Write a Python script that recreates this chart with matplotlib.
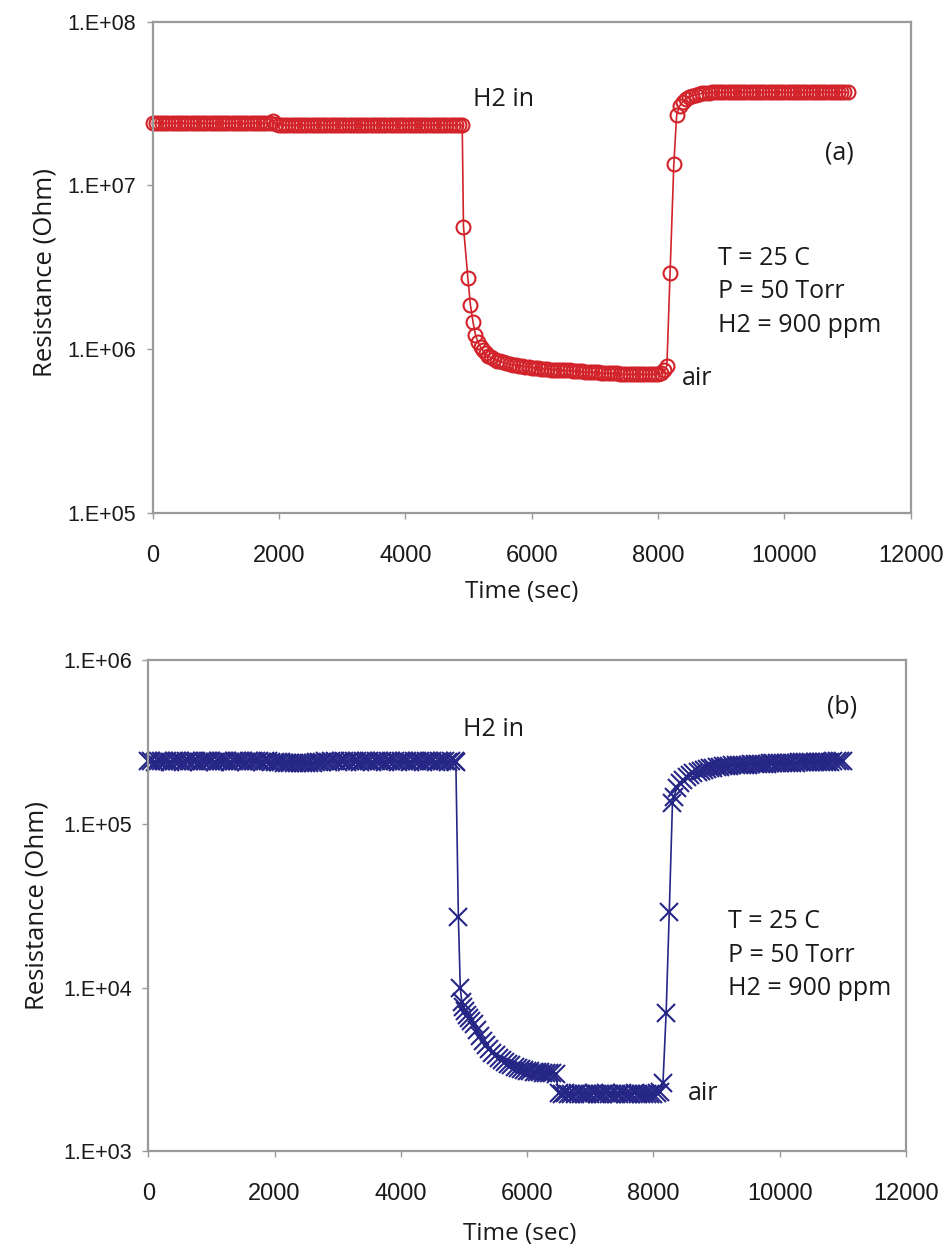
import matplotlib
matplotlib.use("Agg")
import matplotlib.pyplot as plt
from matplotlib.ticker import FixedLocator, NullLocator

# ---------------- data (a): circles, resistance in MOhm ----------------
time_a = [
    0, 50, 100, 150, 200, 250, 300, 350, 400, 450, 500, 550, 600, 650, 700, 750, 800, 850, 900, 950,
    1000, 1050, 1100, 1150, 1200, 1250, 1300, 1350, 1400, 1450, 1500, 1550, 1600, 1650, 1700, 1750,
    1800, 1850, 1900, 1950, 2000, 2050, 2100, 2150, 2200, 2250, 2300, 2350, 2400, 2450, 2500, 2550,
    2600, 2650, 2700, 2750, 2800, 2850, 2900, 2950, 3000, 3050, 3100, 3150, 3200, 3250, 3300, 3350,
    3400, 3450, 3500, 3550, 3600, 3650, 3700, 3750, 3800, 3850, 3900, 3950, 4000, 4050, 4100, 4150,
    4200, 4250, 4300, 4350, 4400, 4450, 4500, 4550, 4600, 4650, 4700, 4750, 4800, 4850, 4900,
    4920, 4990, 5030, 5070, 5110, 5150, 5190, 5230, 5270, 5310, 5350, 5400, 5450, 5500, 5550, 5600,
    5650, 5700, 5750, 5800, 5850, 5900, 5950, 6000, 6050, 6100, 6150, 6200, 6250, 6300, 6350, 6400,
    6450, 6500, 6550, 6600, 6650, 6700, 6750, 6800, 6850, 6900, 6950, 7000, 7050, 7100, 7150, 7200,
    7250, 7300, 7350, 7400, 7450, 7500, 7550, 7600, 7650, 7700, 7750, 7800, 7850, 7900, 7950, 8000,
    8050, 8100, 8140, 8190, 8250, 8295, 8340, 8390, 8440, 8490, 8540, 8600, 8650, 8700, 8750, 8800,
    8850, 8900, 8950, 9000, 9050, 9100, 9150, 9200, 9250, 9300, 9350, 9400, 9450, 9500, 9550, 9600,
    9650, 9700, 9750, 9800, 9850, 9900, 9950, 10000, 10050, 10100, 10150, 10200, 10250, 10300,
    10350, 10400, 10450, 10500, 10550, 10600, 10650, 10700, 10750, 10800, 10850, 10900, 10950, 11000,
]
res_a_MOhm = [
    24.0, 24.1, 24.0, 23.9, 24.0, 24.1, 24.0, 24.0, 23.9, 24.0, 24.1, 24.0, 24.0, 23.9, 24.0, 24.0,
    24.1, 24.0, 23.9, 24.0, 24.0, 24.1, 24.0, 24.0, 23.9, 24.0, 24.0, 24.1, 24.0, 23.9, 24.0, 24.0,
    24.1, 24.0, 24.0, 23.9, 24.0, 24.0, 24.8, 23.6, 23.4, 23.5, 23.4, 23.4, 23.3, 23.4, 23.5, 23.4,
    23.4, 23.3, 23.4, 23.4, 23.5, 23.4, 23.4, 23.3, 23.4, 23.4, 23.5, 23.4, 23.4, 23.3, 23.4, 23.4,
    23.5, 23.4, 23.4, 23.3, 23.4, 23.4, 23.5, 23.4, 23.4, 23.3, 23.4, 23.4, 23.5, 23.4, 23.4, 23.3,
    23.4, 23.4, 23.5, 23.4, 23.4, 23.3, 23.4, 23.4, 23.5, 23.4, 23.4, 23.3, 23.4, 23.4, 23.5, 23.4,
    23.4, 23.4, 23.3,
    5.6, 2.7, 1.86, 1.47, 1.22, 1.10, 1.03, 0.98, 0.94, 0.91, 0.89, 0.87, 0.85, 0.84, 0.83, 0.82,
    0.81, 0.80, 0.80, 0.79, 0.79, 0.78, 0.78, 0.77, 0.77, 0.77, 0.76, 0.76, 0.76, 0.75, 0.75, 0.75,
    0.74, 0.74, 0.74, 0.74, 0.73, 0.73, 0.73, 0.73, 0.72, 0.72, 0.72, 0.72, 0.72, 0.71, 0.71, 0.71,
    0.71, 0.71, 0.71, 0.70, 0.70, 0.70, 0.70, 0.70, 0.70, 0.70, 0.70, 0.70, 0.70, 0.70, 0.70, 0.70,
    0.71, 0.74, 0.79, 2.93, 13.5, 26.9, 30.5, 32.5, 33.8, 34.7, 35.3, 35.8, 36.2, 36.5, 36.7, 36.9,
    37.0, 37.0, 37.1, 37.0, 37.1, 37.2, 37.1, 37.0, 37.1, 37.2, 37.1, 37.1, 37.0, 37.1, 37.2, 37.1,
    37.0, 37.1, 37.2, 37.1, 37.1, 37.0, 37.1, 37.2, 37.1, 37.0, 37.1, 37.2, 37.1, 37.1, 37.0, 37.1,
    37.2, 37.1, 37.0, 37.1, 37.2, 37.1, 37.1, 37.0, 37.1, 37.2, 37.1, 37.0,
]

# ---------------- data (b): crosses, resistance in kOhm ----------------
time_b = [
    0, 50, 100, 150, 200, 250, 300, 350, 400, 450, 500, 550, 600, 650, 700, 750, 800, 850, 900, 950,
    1000, 1050, 1100, 1150, 1200, 1250, 1300, 1350, 1400, 1450, 1500, 1550, 1600, 1650, 1700, 1750,
    1800, 1850, 1900, 1950, 2000, 2050, 2100, 2150, 2200, 2250, 2300, 2350, 2400, 2450, 2500, 2550,
    2600, 2650, 2700, 2750, 2800, 2850, 2900, 2950, 3000, 3050, 3100, 3150, 3200, 3250, 3300, 3350,
    3400, 3450, 3500, 3550, 3600, 3650, 3700, 3750, 3800, 3850, 3900, 3950, 4000, 4050, 4100, 4150,
    4200, 4250, 4300, 4350, 4400, 4450, 4500, 4550, 4600, 4650, 4700, 4750, 4800, 4850, 4870,
    4910, 4940, 4965, 4990, 5020, 5050, 5080, 5110, 5150, 5200, 5250, 5300, 5350, 5400, 5450, 5500,
    5550, 5600, 5650, 5700, 5750, 5800, 5850, 5900, 5950, 6000, 6050, 6100, 6150, 6200, 6250, 6300,
    6350, 6400, 6450, 6500, 6550, 6600, 6650, 6700, 6750, 6800, 6850, 6900, 6950, 7000, 7050, 7100,
    7150, 7200, 7250, 7300, 7350, 7400, 7450, 7500, 7550, 7600, 7650, 7700, 7750, 7800, 7850, 7900,
    7950, 8000, 8050, 8100, 8150, 8200, 8250, 8300, 8320, 8370, 8420, 8470, 8530, 8580, 8630, 8700,
    8750, 8800, 8850, 8900, 8950, 9000, 9050, 9100, 9150, 9200, 9250, 9300, 9350, 9400, 9450, 9500,
    9550, 9600, 9650, 9700, 9750, 9800, 9850, 9900, 9950, 10000, 10050, 10100, 10150, 10200, 10250,
    10300, 10350, 10400, 10450, 10500, 10550, 10600, 10650, 10700, 10750, 10800, 10850, 10900,
    10950, 11000,
]
res_b_kOhm = [
    240, 242, 239, 241, 240, 243, 240, 239, 241, 242, 240, 239, 241, 240, 242, 240, 239, 241, 240,
    242, 240, 239, 241, 240, 242, 240, 239, 241, 240, 242, 240, 239, 241, 240, 242, 240, 239, 241,
    240, 238, 239, 237, 238, 236, 235, 236, 234, 235, 236, 234, 235, 236, 235, 237, 238, 239, 240,
    239, 241, 240, 239, 240, 241, 239, 240, 241, 240, 239, 240, 241, 240, 239, 240, 241, 240, 239,
    240, 241, 240, 239, 240, 241, 240, 239, 240, 241, 240, 239, 240, 241, 240, 239, 240, 241, 240,
    239, 240, 240, 238,
    27.1, 9.9, 8.2, 7.6, 7.2, 6.8, 6.5, 6.25, 6.0, 5.5, 5.05, 4.7, 4.45, 4.2, 4.0, 3.85,
    3.7, 3.6, 3.5, 3.42, 3.35, 3.28, 3.22, 3.17, 3.13, 3.10, 3.08, 3.06, 3.04, 3.03, 3.02, 3.01,
    3.0, 3.0, 2.98, 2.26, 2.25, 2.26, 2.25, 2.24, 2.25, 2.26, 2.25, 2.24, 2.25, 2.25, 2.26, 2.25,
    2.24, 2.25, 2.26, 2.25, 2.24, 2.25, 2.25, 2.26, 2.25, 2.24, 2.25, 2.26, 2.25, 2.24, 2.25, 2.25,
    2.24, 2.25, 2.26, 2.30, 2.6, 7.0, 29.0, 133, 146, 165, 177, 186, 194, 199, 203, 208,
    211, 214, 216, 218, 220, 222, 223, 224, 225, 226, 227, 228, 228, 229, 230, 230,
    231, 231, 232, 232, 233, 233, 234, 234, 234, 235, 235, 235, 236, 236, 236,
    237, 237, 237, 238, 238, 238, 238, 239, 239, 239, 239, 240, 240,
    240, 240,
]

x_ticks = [0, 2000, 4000, 6000, 8000, 10000, 12000]
x_tick_labels = ["0", "2000", "4000", "6000", "8000", "10000", "12000"]
y_ticks_a = [1e5, 1e6, 1e7, 1e8]
y_tick_labels_a = ["1.E+05", "1.E+06", "1.E+07", "1.E+08"]
y_ticks_b = [1e3, 1e4, 1e5, 1e6]
y_tick_labels_b = ["1.E+03", "1.E+04", "1.E+05", "1.E+06"]
conditions = ["T = 25 C", "P = 50 Torr", "H2 = 900 ppm"]

# ---------------- styling ----------------
RED = "#d2232a"
BLUE = "#262687"
FRAME = "#9a9a9a"
TXT = "#1a1a1a"
ANN_FONT = ["Open Sans", "DejaVu Sans"]
YTICK_FONT = ["Liberation Sans", "DejaVu Sans"]
XTICK_FONT = ["Liberation Sans Narrow", "Liberation Sans", "DejaVu Sans"]

fig = plt.figure(figsize=(9.46, 12.49), dpi=100)
fig.patch.set_facecolor("white")

ax1 = fig.add_axes([0.1614, 0.5895, 0.8013, 0.3931])
ax2 = fig.add_axes([0.1568, 0.0782, 0.8010, 0.3934])


def style_axes(ax, yticks, ylabels, ylim):
    ax.set_yscale("log")
    ax.set_xlim(0, 12000)
    ax.set_ylim(*ylim)
    ax.xaxis.set_major_locator(FixedLocator(x_ticks))
    ax.set_xticklabels(x_tick_labels, fontfamily=XTICK_FONT, fontsize=17, color=TXT)
    ax.yaxis.set_major_locator(FixedLocator(yticks))
    ax.yaxis.set_minor_locator(NullLocator())
    ax.set_yticklabels(ylabels, fontfamily=YTICK_FONT, fontsize=15.5, color=TXT)
    for s in ax.spines.values():
        s.set_color(FRAME)
        s.set_linewidth(1.6)
    ax.tick_params(axis="both", which="major", direction="out", length=4,
                   width=1, color=FRAME)
    ax.tick_params(axis="x", pad=19)
    ax.tick_params(axis="y", pad=8)
    ax.set_xlabel("Time (sec)", fontfamily=ANN_FONT, fontsize=17.5, color=TXT)
    ax.set_ylabel("Resistance (Ohm)", fontfamily=ANN_FONT, fontsize=18.5, color=TXT)


style_axes(ax1, y_ticks_a, y_tick_labels_a, (1e5, 1e8))
style_axes(ax2, y_ticks_b, y_tick_labels_b, (1e3, 1e6))

ax1.xaxis.set_label_coords(0.487, -0.138)
ax2.xaxis.set_label_coords(0.490, -0.143)
ax1.yaxis.set_label_coords(-0.125, 0.49)
ax2.yaxis.set_label_coords(-0.131, 0.5)

# ---------------- series ----------------
ra = [v * 1e6 for v in res_a_MOhm]
rb = [v * 1e3 for v in res_b_kOhm]

ax1.plot(time_a, ra, color=RED, lw=1.2, marker="o", ms=10, mfc="none",
         mec=RED, mew=1.5, clip_on=False)
ax2.plot(time_b, rb, color=BLUE, lw=1.2, marker="x", ms=13,
         mec=BLUE, mew=1.5, clip_on=False)

# ---------------- annotations ----------------
fs = 18
ax1.text(5076, 3.37e7, "H2 in", fontfamily=ANN_FONT, fontsize=fs, color=TXT,
         ha="left", va="center")
ax1.text(10643, 1.57e7, "(a)", fontfamily=ANN_FONT, fontsize=fs, color=TXT,
         ha="left", va="center")
ax1.text(8370, 6.64e5, "air", fontfamily=ANN_FONT, fontsize=fs, color=TXT,
         ha="left", va="center")
for txt, yv in zip(conditions, [3.59e6, 2.24e6, 1.40e6]):
    ax1.text(8954, yv, txt, fontfamily=ANN_FONT, fontsize=fs, color=TXT,
             ha="left", va="center")

ax2.text(4984, 3.74e5, "H2 in", fontfamily=ANN_FONT, fontsize=fs, color=TXT,
         ha="left", va="center")
ax2.text(10744, 5.19e5, "(b)", fontfamily=ANN_FONT, fontsize=fs, color=TXT,
         ha="left", va="center")
ax2.text(8552, 2.25e3, "air", fontfamily=ANN_FONT, fontsize=fs, color=TXT,
         ha="left", va="center")
for txt, yv in zip(conditions, [2.53e4, 1.58e4, 9.9e3]):
    ax2.text(9186, yv, txt, fontfamily=ANN_FONT, fontsize=fs, color=TXT,
             ha="left", va="center")

fig.savefig("out.png", dpi=100, facecolor="white")
